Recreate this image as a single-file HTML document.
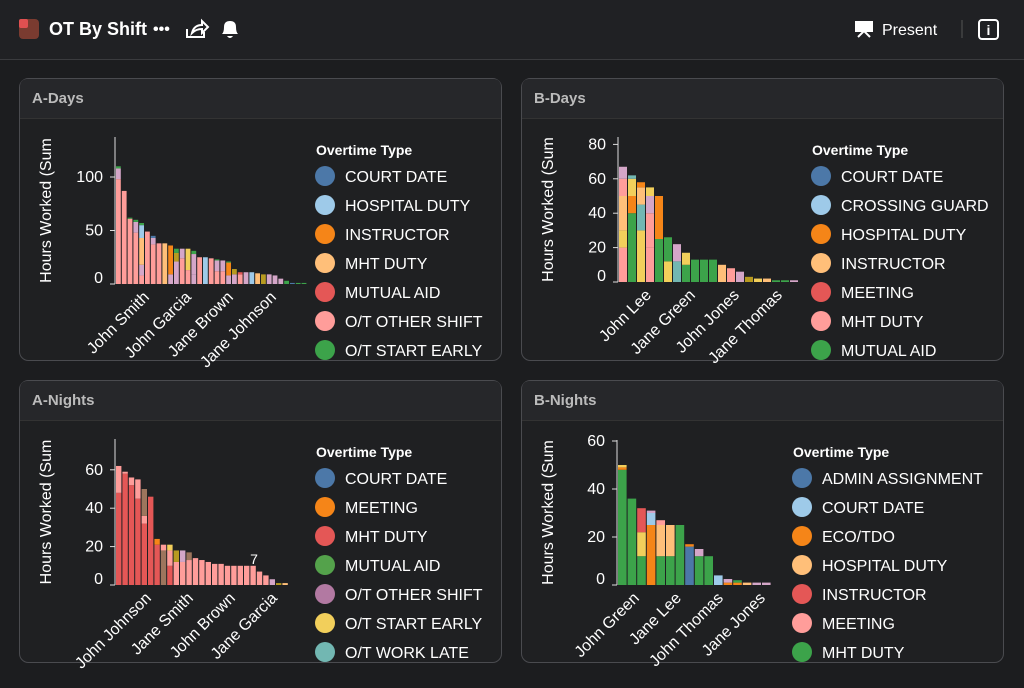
<!DOCTYPE html>
<html><head><meta charset="utf-8"><style>
body{margin:0;background:#1c1d1f;width:1024px;height:683px;overflow:hidden;font-family:"Liberation Sans",sans-serif;}
</style></head><body>
<svg id="s" width="1024" height="683" xmlns="http://www.w3.org/2000/svg" font-family="Liberation Sans, sans-serif">
<rect width="1024" height="683" fill="#1c1d1f"/>
<rect x="0" y="0" width="1024" height="59" fill="#202124"/>
<line x1="0" y1="59.5" x2="1024" y2="59.5" stroke="#3a3b3e"/>
<rect x="19" y="19" width="20" height="20" rx="4" fill="#7a3b30"/>
<rect x="19" y="19" width="9" height="9" rx="2" fill="#e05050"/>
<text x="49" y="35" fill="#fff" font-size="18" font-weight="bold">OT By Shift</text>
<text x="153" y="34" fill="#fff" font-size="16" font-weight="bold">•••</text>
<path d="M187 29 v8 h17 v-5 M192 33 q2 -8 10 -8 v-4 l6 6 -6 6 v-4 q-6 0 -10 4z" fill="none" stroke="#fff" stroke-width="2"/>
<path d="M222 34 q2-2 2-7 q0-6 6-6 q6 0 6 6 q0 5 2 7z M227 36 h6 q-3 4 -6 0z" fill="#fff"/>
<rect x="855" y="21" width="18" height="11" fill="#fff"/>
<path d="M858 37 l6-6 6 6" stroke="#fff" stroke-width="2" fill="none"/>
<text x="882" y="35" fill="#fff" font-size="16">Present</text>
<line x1="962" y1="20" x2="962" y2="38" stroke="#555"/>
<rect x="979" y="20" width="19" height="19" rx="3" fill="none" stroke="#fff" stroke-width="2"/>
<text x="988.5" y="35" fill="#fff" font-size="14" font-weight="bold" text-anchor="middle">i</text>
<g id="g"></g>
</svg>
<script>
const g=document.getElementById('g');let h='';
const C={pk:'#ff9d9a',pu:'#d4a6c8',lb:'#9ecae9',or:'#f58518',lo:'#ffbf79',gr:'#54a24b',g2:'#3ca34a',ye:'#f2cf5b',bl:'#4c78a8',rd:'#e45756',ol:'#b79a20',br:'#9d755d',tl:'#72b7b2'};
function panel(x,y,title,legend,ax){
 h+=`<rect x="${x+.5}" y="${y+.5}" width="482" height="282" rx="9" fill="#1f2022" stroke="#4a4b4f"/>`;
 h+=`<path d="M${x+1} ${y+40} V${y+9} q0-8 8-8 H${x+474} q8 0 8 8 V${y+40}z" fill="#26272a"/><line x1="${x+1}" y1="${y+40.5}" x2="${x+482}" y2="${y+40.5}" stroke="#333"/>`;
 h+=`<text x="${x+13}" y="${y+25}" fill="#bbb" font-size="15" font-weight="bold">${title}</text>`;
 const lx=ax.lx;h+=`<text x="${lx}" y="${y+77}" fill="#fff" font-size="14" font-weight="bold">Overtime Type</text>`;
 legend.forEach((l,i)=>{const cy=y+98+i*29;if(cy>y+282)return;h+=`<circle cx="${lx+9}" cy="${cy}" r="10" fill="${l[1]}"/><text x="${lx+29}" y="${cy+6}" fill="#fff" font-size="16">${l[0]}</text>`;});
 h+=`<text transform="translate(${x+32},${(ax.base+ax.ytop)/2}) rotate(-90)" fill="#fff" font-size="16" text-anchor="middle">Hours Worked (Sum</text>`;
 h+=`<line x1="${ax.x}" y1="${ax.ytop}" x2="${ax.x}" y2="${ax.base}" stroke="#ddd"/>`;
 ax.ticks.forEach(t=>{const yy=ax.base-t*ax.k;const yl=t==0?yy-6:yy;h+=`<line x1="${ax.x-5}" y1="${yy}" x2="${ax.x}" y2="${yy}" stroke="#ddd"/><text x="${ax.x-12}" y="${yl+5}" fill="#fff" font-size="16" text-anchor="end">${t}</text>`;});
 let bx=ax.x+1;
 ax.bars.forEach(b=>{let yy=ax.base;b.forEach(s=>{const hh=s[0]*ax.k;h+=`<rect x="${bx}" y="${yy-hh}" width="${ax.w-1}" height="${hh}" fill="${C[s[1]]}"/>`;yy-=hh;});bx+=ax.w;});
 ax.labels.forEach(l=>{h+=`<text transform="translate(${l[0]},${ax.base+14}) rotate(-45)" fill="#fff" font-size="16" text-anchor="end">${l[1]}</text>`;});
}
panel(19,78,'A-Days',[['COURT DATE','#4c78a8'],['HOSPITAL DUTY','#9ecae9'],['INSTRUCTOR','#f58518'],['MHT DUTY','#ffbf79'],['MUTUAL AID','#e45756'],['O/T OTHER SHIFT','#ff9d9a'],['O/T START EARLY','#3ca34a']],
{lx:316,x:115,base:284,ytop:137,k:1.07,w:5.8,ticks:[0,50,100],labels:[[150,'John Smith'],[192,'John Garcia'],[234,'Jane Brown'],[277,'Jane Johnson']],
bars:[[[98,'pk'],[10,'pu'],[2,'g2']],[[87,'pk']],[[61,'pk'],[1,'g2']],[[48,'pk'],[10,'pu'],[2,'g2']],[[8,'pk'],[10,'pu'],[25,'lo'],[12,'lb'],[2,'g2']],[[49,'pk']],[[37,'pk'],[6,'pu'],[2,'bl']],[[38,'pk']],[[38,'lo']],[[9,'pu'],[27,'or']],[[21,'pu'],[8,'ol'],[4,'g2']],[[24,'pk'],[9,'pu']],[[13,'pk'],[20,'ye']],[[9,'pu'],[19,'pu'],[3,'g2']],[[25,'pk']],[[25,'lb']],[[24,'pk']],[[12,'pk'],[10,'pu'],[1,'g2']],[[12,'pk'],[10,'pu']],[[8,'pu'],[12,'or'],[1,'g2']],[[9,'pu'],[5,'ol']],[[9,'pk'],[2,'rd']],[[11,'pu']],[[11,'lb']],[[10,'lo']],[[9,'ol']],[[9,'pu']],[[8,'pu']],[[5,'pu']],[[3,'g2']],[[1,'bl']],[[1,'g2']],[[1,'g2']]]});
panel(521,78,'B-Days',[['COURT DATE','#4c78a8'],['CROSSING GUARD','#9ecae9'],['HOSPITAL DUTY','#f58518'],['INSTRUCTOR','#ffbf79'],['MEETING','#e45756'],['MHT DUTY','#ff9d9a'],['MUTUAL AID','#3ca34a']],
{lx:812,x:618,base:282,ytop:137,k:1.72,w:9,ticks:[0,20,40,60,80],labels:[[652,'John Lee'],[696,'Jane Green'],[740,'John Jones'],[783,'Jane Thomas']],
bars:[[[20,'pk'],[10,'ye'],[20,'lo'],[10,'pk'],[7,'pu']],[[40,'g2'],[10,'or'],[10,'ye'],[2,'tl']],[[30,'ye'],[15,'tl'],[10,'lo'],[3,'or']],[[20,'pk'],[20,'pk'],[10,'pu'],[5,'ye']],[[25,'g2'],[25,'or']],[[12,'ye'],[14,'g2']],[[12,'tl'],[10,'pu']],[[10,'g2'],[7,'ye']],[[13,'g2']],[[13,'g2']],[[13,'g2']],[[10,'lo']],[[8,'pk']],[[6,'pu']],[[3,'ol']],[[2,'ye']],[[2,'lo']],[[1,'g2']],[[1,'g2']],[[1,'pu']]]});
panel(19,380,'A-Nights',[['COURT DATE','#4c78a8'],['MEETING','#f58518'],['MHT DUTY','#e45756'],['MUTUAL AID','#54a24b'],['O/T OTHER SHIFT','#b279a2'],['O/T START EARLY','#f2cf5b'],['O/T WORK LATE','#72b7b2']],
{lx:316,x:115,base:585,ytop:439,k:1.92,w:6.4,ticks:[0,20,40,60],labels:[[152,'John Johnson'],[194,'Jane Smith'],[236,'John Brown'],[278,'Jane Garcia']],
bars:[[[48,'rd'],[14,'pk']],[[58,'rd'],[1,'pk']],[[52,'rd'],[4,'pk']],[[45,'rd'],[10,'pk']],[[32,'rd'],[4,'pk'],[14,'br']],[[46,'rd']],[[21,'rd'],[3,'or']],[[18,'br'],[3,'pk']],[[10,'rd'],[8,'pk'],[3,'ye']],[[12,'pk'],[6,'ol']],[[12,'pk'],[6,'pu']],[[13,'pk'],[4,'br']],[[14,'pk']],[[13,'pk']],[[12,'pk']],[[11,'pk']],[[11,'pk']],[[10,'pk']],[[10,'pk']],[[10,'pk']],[[10,'pk']],[[10,'pk']],[[7,'pk']],[[5,'pk']],[[3,'pu']],[[1,'ol']],[[1,'lo']]]});
h+=`<text x="254" y="564" fill="#fff" font-size="14" text-anchor="middle">7</text>`;
panel(521,380,'B-Nights',[['ADMIN ASSIGNMENT','#4c78a8'],['COURT DATE','#9ecae9'],['ECO/TDO','#f58518'],['HOSPITAL DUTY','#ffbf79'],['INSTRUCTOR','#e45756'],['MEETING','#ff9d9a'],['MHT DUTY','#3ca34a']],
{lx:793,x:617,base:585,ytop:440,k:2.4,w:9.6,ticks:[0,20,40,60],labels:[[640,'John Green'],[682,'Jane Lee'],[724,'John Thomas'],[766,'Jane Jones']],
bars:[[[48,'g2'],[1,'or'],[1,'ye']],[[36,'g2']],[[12,'g2'],[10,'ye'],[10,'rd']],[[25,'or'],[5,'lb'],[1,'pu']],[[12,'g2'],[13,'lo'],[2,'pk']],[[12,'g2'],[13,'lo']],[[25,'g2']],[[16,'bl'],[1,'or']],[[12,'g2'],[3,'pu']],[[12,'g2']],[[4,'lb']],[[1,'or'],[1.5,'pu']],[[1,'or'],[1,'g2']],[[1,'lo']],[[1,'pu']],[[1,'pu']]]});
g.innerHTML=h;
</script>
</body></html>
